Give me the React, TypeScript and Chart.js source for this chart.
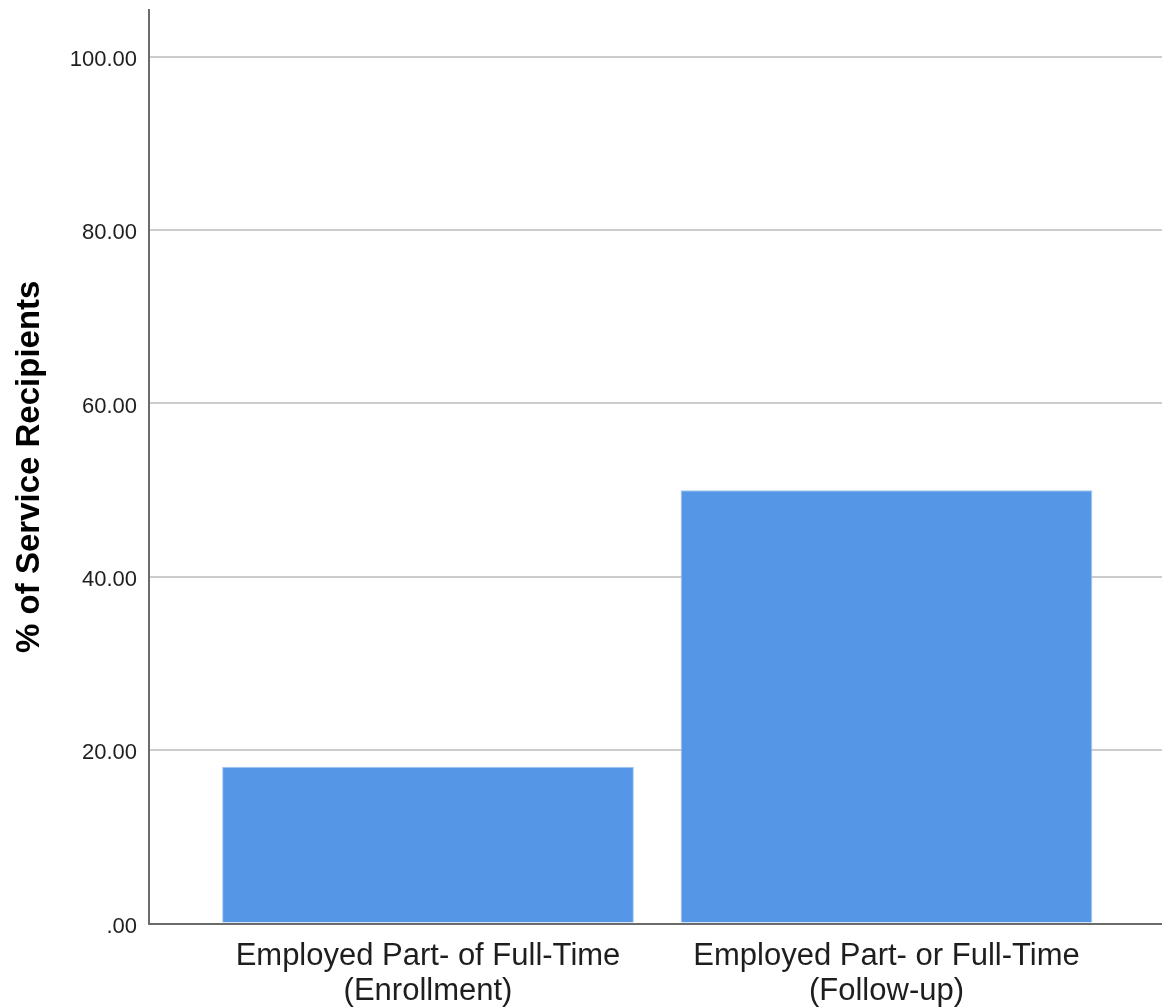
import React, { useEffect, useRef } from "react";
import { Chart, registerables } from "chart.js";

Chart.register(...registerables);

const categories: string[][] = [
  ["Employed Part- of Full-Time", "(Enrollment)"],
  ["Employed Part- or Full-Time", "(Follow-up)"],
];
const percentValues: number[] = [18.1, 50.0];
const yTickValues: number[] = [0, 20, 40, 60, 80, 100];
const yTickLabels: string[] = [".00", "20.00", "40.00", "60.00", "80.00", "100.00"];
const yAxisTitle = "% of Service Recipients";

export default function App() {
  const canvasRef = useRef<HTMLCanvasElement | null>(null);

  useEffect(() => {
    document.body.style.margin = "0";
    const canvas = canvasRef.current;
    if (!canvas) return;
    const chart = new Chart(canvas, {
      type: "bar",
      data: {
        datasets: [
          {
            data: percentValues.map((v, i) => ({ x: i, y: v })),
            backgroundColor: "#5596e6",
            borderColor: "#a4c6f0",
            borderWidth: 1,
            categoryPercentage: 1,
            barPercentage: 0.898,
          },
        ],
      },
      options: {
        animation: false,
        responsive: false,
        devicePixelRatio: 1,
        layout: { padding: { top: 10, left: 0, right: 0, bottom: 0 } },
        plugins: {
          legend: { display: false },
          tooltip: { enabled: false },
        },
        scales: {
          x: {
            type: "linear",
            offset: false,
            grace: 0,
            bounds: "data",
            min: -0.6085,
            max: 1.6009,
            grid: { display: false, drawTicks: false, offset: false },
            border: { display: true, color: "#6b6b6b", width: 2 },
            afterBuildTicks: (scale: any) => {
              scale.ticks = categories.map((_, i) => ({ value: i }));
            },
            afterFit: (scale: any) => {
              scale.height = 84.5;
              scale.paddingLeft = 0;
              scale.paddingRight = 0;
            },
            ticks: {
              autoSkip: false,
              maxRotation: 0,
              minRotation: 0,
              padding: 15,
              color: "#1e1e1e",
              font: { family: "'Liberation Sans', Arial, sans-serif", size: 31, lineHeight: 1.13 },
              callback: (v: any) => categories[Math.round(Number(v))] ?? "",
            },
          },
          y: {
            type: "linear",
            min: 0,
            max: 105.4,
            grid: { display: true, drawTicks: false, color: "#cccccc", lineWidth: 2 },
            border: { display: true, color: "#6b6b6b", width: 2 },
            afterBuildTicks: (scale: any) => {
              scale.ticks = yTickValues.map((v) => ({ value: v }));
            },
            afterFit: (scale: any) => {
              scale.width = 149;
              scale.paddingTop = 0;
              scale.paddingBottom = 0;
            },
            title: {
              display: true,
              text: yAxisTitle,
              color: "#000000",
              padding: { top: 10, bottom: 0 },
              font: { family: "'Liberation Sans', Arial, sans-serif", size: 33, weight: "bold", lineHeight: 1.2 },
            },
            ticks: {
              padding: 12,
              labelOffset: 3,
              color: "#1e1e1e",
              font: { family: "'Liberation Sans', Arial, sans-serif", size: 22 },
              callback: (v: any) => {
                const idx = yTickValues.indexOf(Number(v));
                return idx >= 0 ? yTickLabels[idx] : "";
              },
            },
          },
        },
      } as any,
    });
    return () => chart.destroy();
  }, []);

  return (
    <div style={{ width: 1162, height: 1008, background: "#ffffff" }}>
      <canvas ref={canvasRef} width={1162} height={1008} style={{ display: "block" }} />
    </div>
  );
}
